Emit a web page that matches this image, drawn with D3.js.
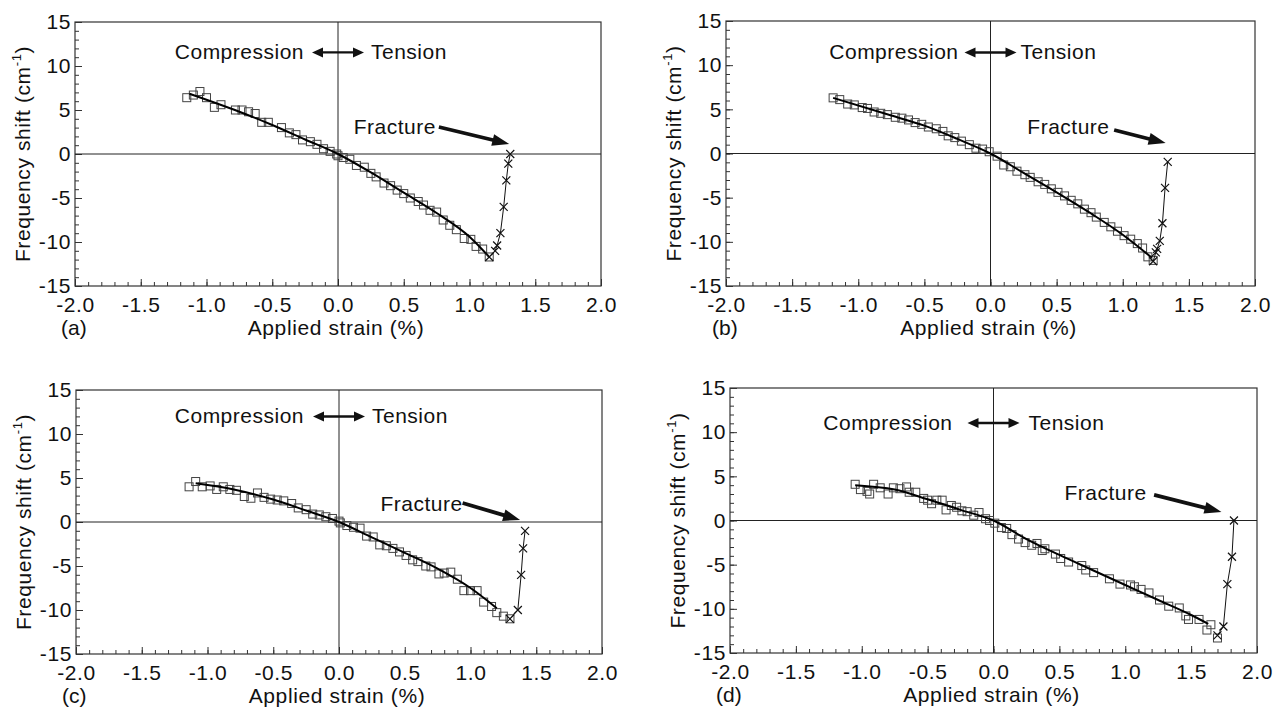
<!DOCTYPE html>
<html>
<head>
<meta charset="utf-8">
<script src="https://cdn.jsdelivr.net/npm/d3@7"></script>
<style>
  body { margin: 0; background: #fff; }
  text { font-family: "Liberation Sans", Arial, Helvetica, sans-serif; fill: #111; }
</style>
</head>
<body>
<div id="chart"></div>
<script>
// axis labels
const xTicks = [-2.0, -1.5, -1.0, -0.5, 0.0, 0.5, 1.0, 1.5, 2.0]
const yTicks = [-15, -10, -5, 0, 5, 10, 15]

// (a) measured points, fitted line, post-fracture points
const sqXA = [-1.15,-1.10,-1.05,-1.00,-0.94,-0.89,-0.78,-0.73,-0.68,-0.63,-0.58,-0.53,-0.43,-0.37,-0.32,-0.27,-0.21,-0.16,-0.11,-0.06,-0.01,0.00,0.04,0.09,0.14,0.20,0.25,0.29,0.35,0.40,0.45,0.50,0.55,0.61,0.65,0.70,0.75,0.80,0.85,0.90,0.96,1.01,1.05,1.10,1.15]
const sqYA = [6.4,6.7,7.1,6.4,5.3,5.6,5.0,5.0,4.8,4.6,3.6,3.6,3.0,2.4,2.2,1.6,1.4,1.1,0.6,0.3,0.0,-0.2,-0.4,-0.6,-1.3,-1.5,-2.2,-2.6,-3.3,-3.6,-4.1,-4.5,-5.0,-5.4,-5.8,-6.4,-6.6,-7.5,-8.1,-8.6,-9.6,-9.7,-10.5,-10.8,-11.7]
const fitXA = [-1.13,-0.75,-0.5,-0.25,0,0.25,0.5,0.75,1.0,1.15]
const fitYA = [6.85,4.8,3.3,1.65,0,-2.1,-4.4,-6.7,-9.4,-11.7]
const crossXA = [1.15,1.195,1.21,1.235,1.26,1.28,1.295,1.31]
const crossYA = [-11.7,-11.0,-10.4,-9.0,-6.0,-3.0,-1.1,0]

// (b)
const sqXB = [-1.19,-1.14,-1.08,-1.03,-0.97,-0.93,-0.88,-0.83,-0.78,-0.72,-0.67,-0.62,-0.57,-0.52,-0.47,-0.41,-0.36,-0.32,-0.27,-0.22,-0.16,-0.11,-0.06,-0.01,0.05,0.10,0.15,0.20,0.26,0.30,0.36,0.41,0.46,0.51,0.56,0.61,0.66,0.71,0.76,0.80,0.86,0.91,0.96,1.01,1.06,1.11,1.15,1.19,1.23]
const sqYB = [6.3,6.1,5.6,5.5,5.2,5.1,4.7,4.55,4.4,4.1,4.0,3.8,3.5,3.3,3.0,2.8,2.5,2.0,1.8,1.4,1.0,0.6,0.5,0.2,-0.3,-1.3,-1.5,-2.0,-2.4,-2.7,-3.2,-3.5,-4.0,-4.4,-4.8,-5.3,-5.7,-6.3,-6.7,-7.2,-7.8,-8.3,-8.8,-9.3,-9.7,-10.2,-10.7,-11.7,-12.1]
const fitXB = [-1.19,-0.75,-0.5,-0.25,0,0.25,0.5,0.75,1.0,1.22]
const fitYB = [6.3,4.3,3.15,1.65,0,-2.2,-4.4,-6.7,-9.2,-11.8]
const crossXB = [1.23,1.25,1.26,1.28,1.30,1.32,1.34]
const crossYB = [-12.2,-11.2,-10.8,-9.9,-7.9,-3.9,-0.95]

// (c)
const sqXC = [-1.14,-1.09,-1.04,-0.98,-0.93,-0.88,-0.83,-0.78,-0.72,-0.67,-0.62,-0.57,-0.52,-0.47,-0.42,-0.36,-0.31,-0.25,-0.20,-0.15,-0.10,-0.05,0.00,0.01,0.06,0.11,0.16,0.21,0.26,0.31,0.36,0.41,0.46,0.51,0.56,0.60,0.66,0.70,0.76,0.80,0.85,0.90,0.95,1.00,1.05,1.10,1.16,1.20,1.25,1.30]
const sqYC = [4.0,4.6,4.0,4.1,3.7,4.0,3.7,3.6,2.9,2.7,3.3,2.8,2.6,2.5,2.4,2.1,1.6,1.4,0.9,0.8,0.6,0.4,0.1,-0.1,-0.4,-0.6,-0.7,-1.6,-1.7,-2.6,-2.7,-3.0,-3.4,-3.8,-4.3,-4.5,-5.0,-5.1,-5.9,-5.8,-5.7,-6.5,-7.8,-7.8,-7.8,-9.1,-9.6,-10.3,-10.7,-11.0]
const fitXC = [-1.09,-0.8,-0.5,-0.25,0,0.25,0.5,0.75,1.0,1.2]
const fitYC = [4.4,3.7,2.55,1.3,0,-1.75,-3.5,-5.3,-7.5,-9.8]
const crossXC = [1.30,1.36,1.385,1.40,1.415]
const crossYC = [-11.0,-10.0,-6.0,-3.0,-1.0]

// (d)
const sqXD = [-1.05,-1.01,-0.96,-0.94,-0.91,-0.86,-0.80,-0.76,-0.71,-0.66,-0.64,-0.59,-0.53,-0.50,-0.47,-0.43,-0.39,-0.36,-0.32,-0.28,-0.24,-0.20,-0.15,-0.11,-0.06,-0.03,0.01,0.06,0.10,0.14,0.19,0.24,0.29,0.33,0.37,0.39,0.47,0.51,0.57,0.67,0.70,0.76,0.88,0.96,1.04,1.07,1.12,1.18,1.26,1.33,1.41,1.46,1.48,1.56,1.62,1.65,1.70]
const sqYD = [4.1,3.5,3.3,3.0,4.1,3.7,3.0,3.7,3.6,3.8,3.2,3.2,2.5,2.3,1.9,2.3,2.3,1.2,1.7,1.5,1.1,1.0,0.6,0.9,0.2,0.0,-0.3,-0.8,-0.9,-1.6,-2.1,-2.5,-2.8,-2.6,-3.4,-3.2,-3.8,-4.3,-4.7,-5.1,-5.6,-5.9,-6.6,-7.2,-7.3,-7.5,-7.8,-8.2,-9.0,-9.7,-9.9,-10.8,-11.2,-11.2,-12.4,-11.8,-13.3]
const fitXD = [-1.05,-0.75,-0.5,-0.25,0,0.25,0.5,0.75,1.0,1.25,1.5,1.63]
const fitYD = [4.0,3.5,2.4,1.2,0,-2.1,-3.9,-5.6,-7.3,-9.0,-10.7,-11.7]
const crossXD = [1.70,1.745,1.775,1.81,1.825]
const crossYD = [-13.0,-12.0,-7.2,-4.1,0]

const panelLabels = ["(a)", "(b)", "(c)", "(d)"]

const zip = (xs, ys) => xs.map((x, i) => [x, ys[i]])

// layout for each panel (pixel box + annotation anchors in data units)
const panels = [
  { label: panelLabels[0], left: 75, top: 22, w: 526, h: 264,
    sq: zip(sqXA, sqYA), fit: zip(fitXA, fitYA), cross: zip(crossXA, crossYA),
    compY: 10.75, gaps: [8, 7], fracText: [0.745, 2.27], fracArrow: [0.767, 3.07, 1.302, 1.14] },
  { label: panelLabels[1], left: 726, top: 21, w: 529, h: 265,
    sq: zip(sqXB, sqYB), fit: zip(fitXB, fitYB), cross: zip(crossXB, crossYB),
    compY: 10.65, gaps: [6, 4], fracText: [0.90, 2.2], fracArrow: [0.935, 2.66, 1.324, 1.18] },
  { label: panelLabels[2], left: 76, top: 390, w: 526, h: 264,
    sq: zip(sqXC, sqYC), fit: zip(fitXC, fitYC), cross: zip(crossXC, crossYC),
    compY: 11.2, gaps: [9, 7], fracText: [0.94, 1.25], fracArrow: [0.94, 2.16, 1.377, 0.23] },
  { label: panelLabels[3], left: 730, top: 388, w: 527, h: 265,
    sq: zip(sqXD, sqYD), fit: zip(fitXD, fitYD), cross: zip(crossXD, crossYD),
    compY: 10.25, gaps: [15, 9], fracText: [1.163, 2.27], fracArrow: [1.219, 2.9, 1.73, 0.97] }
]

const fs = 21

const svg = d3.select("#chart")
  .append("svg")
  .attr("width", 1276)
  .attr("height", 711)

svg.append("rect").attr("width", 1276).attr("height", 711).attr("fill", "#fff")

// filled arrow: line plus triangular head(s)
function arrow(g, x1, y1, x2, y2, sw, hl, hw, both) {
  const a = Math.atan2(y2 - y1, x2 - x1), c = Math.cos(a), s = Math.sin(a)
  const head = (tx, ty, dir) => {
    const bx = tx - dir * hl * c, by = ty - dir * hl * s
    return [[tx, ty], [bx - hw / 2 * s, by + hw / 2 * c], [bx + hw / 2 * s, by - hw / 2 * c]]
  }
  const sx = both ? x1 + hl * 0.8 * c : x1, sy = both ? y1 + hl * 0.8 * s : y1
  g.append("line")
    .attr("x1", sx).attr("y1", sy)
    .attr("x2", x2 - hl * 0.8 * c).attr("y2", y2 - hl * 0.8 * s)
    .attr("stroke", "#111").attr("stroke-width", sw)
  g.append("path").attr("d", "M" + head(x2, y2, 1).join("L") + "Z").attr("fill", "#111")
  if (both) g.append("path").attr("d", "M" + head(x1, y1, -1).join("L") + "Z").attr("fill", "#111")
}

panels.forEach(p => {
  const g = svg.append("g").attr("transform", "translate(" + p.left + "," + p.top + ")")

  const x = d3.scaleLinear().domain([-2, 2]).range([0, p.w])
  const y = d3.scaleLinear().domain([-15, 15]).range([p.h, 0])

  // minor ticks (inward)
  g.append("g")
    .attr("transform", "translate(0," + p.h + ")")
    .call(d3.axisBottom(x).ticks(40).tickSizeInner(-4).tickSizeOuter(0).tickFormat(""))
  g.append("g")
    .call(d3.axisLeft(y).ticks(30).tickSizeInner(-4).tickSizeOuter(0).tickFormat(""))

  // major ticks + labels
  g.append("g")
    .attr("transform", "translate(0," + p.h + ")")
    .call(d3.axisBottom(x).tickValues(xTicks).tickSizeInner(-7).tickSizeOuter(0)
      .tickPadding(11).tickFormat(d => d.toFixed(1)))
  g.append("g")
    .call(d3.axisLeft(y).tickValues(yTicks).tickSizeInner(-7).tickSizeOuter(0)
      .tickPadding(4).tickFormat(d => String(d)))

  g.selectAll(".domain").remove()
  g.selectAll(".tick line").attr("stroke", "#333").attr("stroke-width", 1)
  g.selectAll(".tick text").attr("font-size", fs).attr("fill", "#111")
    .attr("letter-spacing", 0.6)
    .style("font-family", '"Liberation Sans", Arial, sans-serif')

  // frame and zero lines
  g.append("rect").attr("width", p.w).attr("height", p.h)
    .attr("fill", "none").attr("stroke", "#333").attr("stroke-width", 1.2)
  g.append("line").attr("x1", 0).attr("x2", p.w).attr("y1", y(0)).attr("y2", y(0))
    .attr("stroke", "#222").attr("stroke-width", 1)
  g.append("line").attr("x1", x(0)).attr("x2", x(0)).attr("y1", 0).attr("y2", p.h)
    .attr("stroke", "#222").attr("stroke-width", 1)

  // squares
  g.selectAll("rect.pt")
    .data(p.sq)
    .enter()
    .append("rect")
    .attr("class", "pt")
    .attr("x", d => x(d[0]) - 4)
    .attr("y", d => y(d[1]) - 4)
    .attr("width", 8)
    .attr("height", 8)
    .attr("fill", "none")
    .attr("stroke", "#444")
    .attr("stroke-width", 1)

  // fitted line
  g.append("path")
    .datum(p.fit)
    .attr("d", d3.line().x(d => x(d[0])).y(d => y(d[1])).curve(d3.curveMonotoneX))
    .attr("fill", "none").attr("stroke", "#000").attr("stroke-width", 2)

  // post-fracture crosses
  g.append("path")
    .datum(p.cross)
    .attr("d", d3.line().x(d => x(d[0])).y(d => y(d[1])))
    .attr("fill", "none").attr("stroke", "#111").attr("stroke-width", 1)
  g.selectAll("path.cross")
    .data(p.cross)
    .enter()
    .append("path")
    .attr("class", "cross")
    .attr("transform", d => "translate(" + x(d[0]) + "," + y(d[1]) + ")")
    .attr("d", "M-4,-4L4,4M-4,4L4,-4")
    .attr("stroke", "#111").attr("stroke-width", 1.2)

  // Compression <-> Tension
  const cy = y(p.compY), cx = x(0), half = 26
  arrow(g, cx - half, cy - 7, cx + half, cy - 7, 2.4, 11, 10, true)
  g.append("text").attr("x", cx - half - p.gaps[0]).attr("y", cy)
    .attr("text-anchor", "end").attr("font-size", fs).attr("letter-spacing", 0.5).text("Compression")
  g.append("text").attr("x", cx + half + p.gaps[1]).attr("y", cy)
    .attr("font-size", fs).attr("letter-spacing", 0.5).text("Tension")

  // Fracture
  g.append("text").attr("x", x(p.fracText[0])).attr("y", y(p.fracText[1]))
    .attr("text-anchor", "end").attr("font-size", fs).attr("letter-spacing", 0.5).text("Fracture")
  const fa = p.fracArrow
  arrow(g, x(fa[0]), y(fa[1]), x(fa[2]), y(fa[3]), 3.8, 17, 12, false)

  // axis titles
  g.append("text").attr("x", x(0) - 2).attr("y", p.h + 49)
    .attr("text-anchor", "middle").attr("font-size", fs).attr("letter-spacing", 0.6)
    .text("Applied strain (%)")
  const yl = g.append("text")
    .attr("transform", "translate(-52," + (p.h / 2) + ") rotate(-90)")
    .attr("text-anchor", "middle").attr("dy", "0.35em").attr("font-size", fs)
    .attr("letter-spacing", 0.6)
  yl.append("tspan").text("Frequency shift (cm")
  yl.append("tspan").attr("font-size", 13).attr("dy", -9).text("-1")
  yl.append("tspan").attr("dy", 9).text(")")

  g.append("text").attr("x", -14).attr("y", p.h + 49)
    .attr("font-size", fs).text(p.label)
})
</script>
</body>
</html>
